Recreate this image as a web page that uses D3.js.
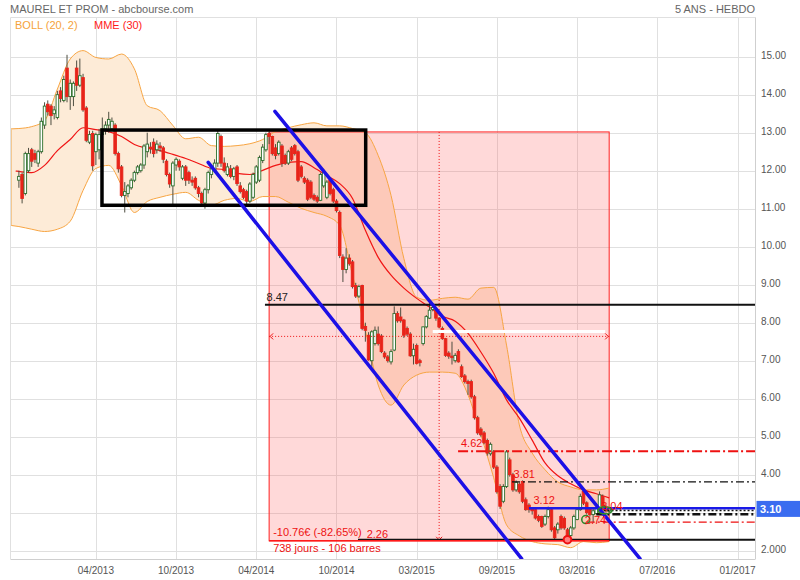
<!DOCTYPE html>
<html><head><meta charset="utf-8">
<script src="https://cdn.jsdelivr.net/npm/d3@7"></script>
<style>body{margin:0;background:#fff}svg{display:block;font-family:"Liberation Sans",Arial,Helvetica,sans-serif}</style>
</head><body><svg id="c" width="800" height="580"></svg>
<script>
// ---------- DATA ----------
const titleText = "MAUREL ET PROM - abcbourse.com";
const periodText = "5 ANS - HEBDO";
const legendBoll = "BOLL (20, 2)";
const legendMme = "MME (30)";
const xTickIdx = [24, 49, 74, 99, 124, 149, 174, 199, 224];
const xTickLabels = ["04/2013","10/2013","04/2014","10/2014","03/2015","09/2015","03/2016","07/2016","01/2017"];
const yTicks = [2,3,4,5,6,7,8,9,10,11,12,13,14,15];
// the 3.00 label sits under the last-price tag in the reference, so it is left empty
const yTickLabels = ["2.000","","4.00","5.00","6.00","7.00","8.00","9.00","10.00","11.00","12.00","13.00","14.00","15.00"];
const lastPrice = 3.10;

// weekly candles (bar index = position in arrays)
const opens = [11.75,11.90,11.40,12.00,12.55,12.45,12.20,12.50,13.20,13.75,13.70,13.50,13.40,14.10,13.85,14.70,13.95,13.95,14.70,14.25,
14.45,13.65,12.75,12.98,12.50,12.55,12.95,13.10,13.20,13.10,13.20,12.45,12.10,11.35,11.40,11.55,11.75,11.95,12.00,12.15,
12.50,12.62,12.75,12.55,12.65,12.60,12.25,11.90,11.60,12.15,12.25,11.80,12.10,11.95,11.75,11.80,11.55,11.40,11.15,11.50,
11.90,12.00,12.20,12.90,12.20,11.90,12.05,11.85,12.10,11.60,11.50,11.45,11.20,11.30,11.70,11.75,12.27,12.55,12.98,12.90,
12.60,12.45,12.65,12.40,12.20,12.60,12.66,12.50,12.10,11.80,11.75,11.70,11.35,11.30,11.22,11.60,11.30,11.75,11.50,11.20,
10.90,9.73,9.40,9.70,9.60,8.98,8.70,8.98,7.90,7.67,7.00,7.45,7.70,7.65,7.20,7.10,6.97,7.28,8.24,8.15,
8.07,7.85,7.70,7.13,7.40,7.00,7.45,7.89,8.12,8.35,8.33,8.12,7.85,7.58,7.20,7.12,7.00,7.24,6.84,6.60,
6.45,6.45,6.05,5.50,5.20,5.10,4.90,4.55,4.60,4.20,3.69,3.30,3.69,4.39,4.00,3.60,3.75,3.82,3.34,3.20,
3.10,3.08,2.90,2.90,2.70,2.90,3.08,2.60,2.55,2.90,2.85,2.55,2.40,2.60,2.82,3.08,3.56,3.26,3.10,2.95,
2.98,3.13,3.43,3.10,3.04];
const highs = [12.00,11.95,12.50,12.60,12.60,12.55,12.55,13.40,13.80,13.85,13.75,13.70,14.10,14.20,14.50,15.05,14.40,14.35,14.90,14.95,
14.55,13.70,13.05,13.05,13.00,13.10,13.40,13.30,13.55,13.40,13.25,12.50,12.15,11.70,11.65,11.80,12.00,12.15,12.20,12.70,
13.00,12.75,12.85,12.80,12.75,12.65,12.30,11.95,12.25,12.35,12.30,12.15,12.15,12.00,11.85,11.85,11.60,11.45,11.55,12.00,
12.15,12.30,13.05,12.95,12.35,12.20,12.15,12.10,12.15,11.70,11.55,11.50,11.70,11.95,12.15,12.40,12.70,13.00,13.02,12.92,
12.70,12.80,12.70,12.45,12.55,12.65,12.70,12.55,12.15,11.85,11.80,11.75,11.40,11.35,11.95,12.05,11.75,11.80,11.55,11.25,
10.95,9.80,9.96,9.80,9.65,9.05,9.00,9.00,8.00,7.75,7.80,7.90,7.90,7.70,7.25,7.15,7.30,8.43,8.30,8.40,
8.10,7.90,7.75,7.45,7.45,7.05,7.90,8.20,8.55,8.50,8.40,8.15,7.90,7.60,7.25,7.50,7.20,7.30,6.90,6.65,
6.50,6.50,6.10,5.55,5.25,5.15,4.95,4.85,4.65,4.25,3.75,3.75,4.65,4.45,4.05,3.85,3.80,3.85,3.40,3.25,
3.15,3.12,2.95,2.92,2.95,3.16,3.10,2.65,2.75,2.95,2.90,2.60,2.65,2.95,3.12,3.50,3.60,3.30,3.15,3.10,
3.18,3.56,3.48,3.20,3.15];
const lows = [11.55,11.14,11.35,11.95,12.10,12.20,12.10,12.45,13.10,13.45,13.20,13.35,13.35,13.80,13.80,13.80,13.60,13.70,14.10,14.20,
13.55,12.75,12.70,12.00,12.15,12.30,12.90,12.95,13.00,13.05,12.40,11.95,11.30,10.90,11.30,11.50,11.70,11.90,11.95,12.05,
12.35,12.45,12.35,12.45,12.50,12.20,11.85,11.55,11.10,12.00,12.00,11.75,11.60,11.65,11.60,11.50,11.30,11.05,11.00,11.40,
11.80,11.95,12.10,12.10,11.95,11.85,11.80,11.75,11.60,11.40,11.25,11.10,11.15,11.25,11.65,11.70,12.20,12.50,12.70,12.40,
12.30,12.40,12.10,12.15,12.15,12.25,12.40,11.70,11.80,11.65,11.20,11.25,11.20,11.15,11.20,11.55,11.25,11.35,11.15,10.90,
9.70,9.07,9.30,9.50,8.90,8.65,8.65,7.80,7.50,7.00,6.80,7.40,7.40,7.20,7.05,6.95,6.90,7.25,8.00,8.00,
7.60,7.65,7.10,6.90,6.90,6.85,7.40,7.85,8.10,8.30,8.05,7.85,7.55,7.10,7.05,6.90,6.95,6.95,6.55,6.40,
6.10,6.00,5.45,5.05,5.00,4.80,4.50,4.50,4.15,3.50,3.10,3.25,3.65,3.95,3.55,3.55,3.50,3.25,3.05,3.00,
2.95,2.82,2.75,2.60,2.65,2.85,2.50,2.30,2.45,2.55,2.55,2.26,2.35,2.55,2.80,3.05,3.20,2.95,2.90,2.74,
2.95,3.10,3.12,3.00,3.02];
const closes = [11.85,11.27,12.45,12.45,12.25,12.30,12.50,13.30,13.70,13.55,13.45,13.60,14.00,13.90,14.40,13.95,14.30,14.30,14.25,14.50,
13.60,12.80,12.95,12.13,12.95,12.95,13.10,13.20,13.35,13.30,12.45,12.05,11.35,11.45,11.60,11.75,11.95,12.10,12.15,12.65,
12.70,12.58,12.45,12.70,12.60,12.30,11.90,11.65,12.20,12.30,12.10,12.10,11.75,11.75,11.70,11.55,11.40,11.15,11.50,11.95,
12.05,12.20,12.98,12.20,12.00,12.10,11.85,12.05,11.66,11.45,11.30,11.20,11.65,11.90,12.10,12.35,12.62,12.95,12.90,12.45,
12.40,12.75,12.20,12.20,12.50,12.30,12.45,11.75,11.85,11.70,11.25,11.30,11.25,11.20,11.90,11.95,11.70,11.40,11.20,10.95,
9.77,9.40,9.70,9.55,8.95,8.70,8.95,7.85,7.80,7.02,7.76,7.80,7.45,7.24,7.10,7.00,7.24,8.24,8.05,8.05,
7.67,7.70,7.13,7.30,6.93,6.95,7.89,8.16,8.33,8.40,8.12,7.89,7.58,7.14,7.12,7.08,7.14,6.97,6.58,6.45,
6.40,6.05,5.50,5.10,5.05,4.84,4.57,4.80,4.20,3.55,3.17,3.69,4.60,4.00,3.60,3.80,3.55,3.30,3.08,3.08,
3.05,2.86,2.80,2.64,2.90,3.08,2.55,2.34,2.70,2.60,2.60,2.34,2.60,2.90,3.08,3.43,3.25,3.00,2.95,3.05,
3.13,3.47,3.17,3.05,3.10];

// Bollinger (20,2) and MME(30) at sample bars
const bandIdx = [-2.5,0,4,8,12,16,20,24,28,32,36,40,44,48,52,56,60,64,68,72,76,80,84,88,92,96,100,104,108,112,116,120,124,128,132,136,140,144,148,152,156,160,164,168,172,176,180,184];
const bandUpper = [13.10,13.11,13.16,13.32,14.15,14.94,15.16,14.98,14.94,15.07,14.68,13.71,13.58,13.19,12.84,12.88,12.66,12.64,12.66,12.71,12.82,13.03,13.13,13.21,13.26,13.18,13.18,13.11,13.00,12.40,11.35,9.69,8.67,8.59,8.64,8.67,8.62,8.91,8.93,7.41,5.31,4.57,4.13,3.81,3.68,3.60,3.60,3.65];
const bandLower = [10.56,10.53,10.46,10.40,10.46,10.67,11.48,12.06,12.14,11.61,10.90,11.19,11.30,11.38,11.43,11.22,11.09,11.22,11.27,11.19,11.32,11.32,11.17,11.01,10.90,10.80,10.56,9.25,7.80,6.36,5.83,6.36,6.62,6.70,6.70,6.67,6.10,5.05,3.92,2.68,2.39,2.24,2.18,2.16,2.08,2.24,2.21,2.24];
const emaIdx = [-1,0,4,8,12,16,20,24,28,32,36,40,44,48,52,56,60,64,68,72,76,80,84,88,92,96,100,104,108,112,116,120,124,128,132,136,140,144,148,152,156,160,164,168,172,176,180,184];
const emaVals = [11.99,11.98,11.95,12.14,12.53,12.82,13.13,13.08,13.03,12.90,12.69,12.59,12.53,12.43,12.32,12.19,12.06,12.03,11.93,11.90,12.01,12.14,12.22,12.24,12.08,11.87,11.66,11.27,10.43,9.72,9.25,8.91,8.64,8.41,8.17,8.04,7.72,7.23,6.67,5.97,5.49,4.91,4.31,3.97,3.76,3.60,3.50,3.39];

// drawings (bar index, price)
const boxIdx = [25.9, 108.1], boxPrice = [13.07, 11.09];
const measureIdx = [78, 184], measurePrice = [13.02, 2.26];
const channelUpper = [[79.8, 13.56], [193.6, 1.79]];
const channelLower = [[59.0, 12.22], [156.7, 1.79]];
const levels = [
  {v: 8.47, from: 76.7, color: "#111", w: 2, dash: null, label: "8.47", lx: 77.2, lc: "#222"},
  {v: 4.62, from: 136.9, color: "#ee1111", w: 2, dash: "10,3,2,3", label: "4.62", lx: 137.8, lc: "#ee1111"},
  {v: 3.81, from: 153.7, color: "#111", w: 1.2, dash: "8,3,2,3", label: "3.81", lx: 154.2, lc: "#ee1111"},
  {v: 3.12, from: 159.0, color: "#1a1ae8", w: 2.5, dash: null, label: "3.12", lx: 160.4, lc: "#ee1111"},
  {v: 3.06, from: 181.0, color: "#111", w: 1.5, dash: "2,2", label: null},
  {v: 2.96, from: 180.0, color: "#111", w: 2.5, dash: "8,3,2,3", label: null},
  {v: 2.75, from: 177.0, color: "#ee1111", w: 1.2, dash: "8,3,2,3", label: null},
  {v: 2.29, from: 105.7, color: "#111", w: 2, dash: null, label: null}
];

// ---------- CHART ----------
const L = 10.5, R = 755.5, T = 17.5, B = 559;
const svg = d3.select("#c");
const x = d3.scaleLinear().domain([0, 224]).range([18.9, 737.5]);
const y = d3.scaleLinear().domain([2, 15]).range([550.7, 56.7]);

svg.append("defs").append("clipPath").attr("id", "plot")
  .append("rect").attr("x", L).attr("y", T).attr("width", R - L).attr("height", B - T);

// grid
const grid = svg.append("g").attr("stroke", "#e0e0e0").attr("stroke-width", 1);
grid.selectAll(".h").data(yTicks).join("line")
  .attr("x1", L).attr("x2", R).attr("y1", d => Math.round(y(d)) + 0.5).attr("y2", d => Math.round(y(d)) + 0.5);
grid.selectAll(".v").data(xTickIdx).join("line")
  .attr("y1", T).attr("y2", B).attr("x1", d => Math.round(x(d)) + 0.5).attr("x2", d => Math.round(x(d)) + 0.5);

const plot = svg.append("g").attr("clip-path", "url(#plot)");

// bollinger fill
const band = bandIdx.map((k, i) => ({k, u: bandUpper[i], l: bandLower[i]}));
plot.append("path").datum(band)
  .attr("d", d3.area().x(d => x(d.k)).y0(d => y(d.l)).y1(d => y(d.u)).curve(d3.curveMonotoneX))
  .attr("fill", "#fdebd7");

// measurement rectangle
plot.append("rect")
  .attr("x", x(measureIdx[0])).attr("y", y(measurePrice[0]))
  .attr("width", x(measureIdx[1]) - x(measureIdx[0]))
  .attr("height", y(measurePrice[1]) - y(measurePrice[0]))
  .attr("fill", "rgba(255,80,80,0.22)").attr("stroke", "#ff2020").attr("stroke-width", 1);

// bollinger lines
plot.append("path").datum(band)
  .attr("d", d3.line().x(d => x(d.k)).y(d => y(d.u)).curve(d3.curveMonotoneX))
  .attr("fill", "none").attr("stroke", "#f7a543").attr("stroke-width", 1);
plot.append("path").datum(band)
  .attr("d", d3.line().x(d => x(d.k)).y(d => y(d.l)).curve(d3.curveMonotoneX))
  .attr("fill", "none").attr("stroke", "#f7a543").attr("stroke-width", 1);
plot.append("line").attr("x1", L + 0.5).attr("x2", L + 0.5).attr("y1", y(bandUpper[0])).attr("y2", y(bandLower[0]))
  .attr("stroke", "#f4c890").attr("stroke-width", 2);

const midV = (measurePrice[0] + measurePrice[1]) / 2;
const midK = (measureIdx[0] + measureIdx[1]) / 2;

// EMA
plot.append("path").datum(emaIdx.map((k, i) => [k, emaVals[i]]))
  .attr("d", d3.line().x(d => x(d[0])).y(d => y(d[1])).curve(d3.curveMonotoneX))
  .attr("fill", "none").attr("stroke", "#f01515").attr("stroke-width", 1.2);

// candles
const candles = closes.map((c, i) => ({i, o: opens[i], h: highs[i], l: lows[i], c}));
const bw = 2.6;
const cg = plot.append("g");
cg.selectAll("line.w").data(candles).join("line")
  .attr("x1", d => x(d.i)).attr("x2", d => x(d.i))
  .attr("y1", d => y(d.h)).attr("y2", d => y(d.l))
  .attr("stroke", "#4d4d40").attr("stroke-width", 1);
cg.selectAll("rect.b").data(candles).join("rect")
  .attr("x", d => x(d.i) - bw / 2)
  .attr("y", d => y(Math.max(d.o, d.c)))
  .attr("width", bw)
  .attr("height", d => Math.max(1, Math.abs(y(d.o) - y(d.c))))
  .attr("fill", d => d.c >= d.o ? "#fff" : "#e8241a")
  .attr("stroke", d => d.c >= d.o ? "#2b6e2b" : "#e8241a")
  .attr("stroke-width", 0.9);

// measure dotted lines
plot.append("line").attr("x1", x(midK)).attr("x2", x(midK)).attr("y1", y(measurePrice[0])).attr("y2", y(measurePrice[1]))
  .attr("stroke", "#ee1111").attr("stroke-dasharray", "1,2");
plot.append("line").attr("x1", x(129)).attr("x2", x(measureIdx[1]) - 4).attr("y1", y(midV) - 5).attr("y2", y(midV) - 5)
  .attr("stroke", "#fff").attr("stroke-width", 3);
plot.append("line").attr("x1", x(measureIdx[0])).attr("x2", x(measureIdx[1])).attr("y1", y(midV)).attr("y2", y(midV))
  .attr("stroke", "#ee1111").attr("stroke-dasharray", "1,2");
const arr = plot.append("g").attr("fill", "none").attr("stroke", "#ee1111").attr("stroke-width", 1);
arr.append("path").attr("d", `M${x(measureIdx[0]) + 4},${y(midV) - 3}L${x(measureIdx[0]) + 1},${y(midV)}L${x(measureIdx[0]) + 4},${y(midV) + 3}`);
arr.append("path").attr("d", `M${x(measureIdx[1]) - 4},${y(midV) - 3}L${x(measureIdx[1]) - 1},${y(midV)}L${x(measureIdx[1]) - 4},${y(midV) + 3}`);
arr.append("path").attr("d", `M${x(midK) - 3},${y(measurePrice[1]) - 4}L${x(midK)},${y(measurePrice[1]) - 1}L${x(midK) + 3},${y(measurePrice[1]) - 4}`);

// horizontal levels
levels.forEach(lv => {
  plot.append("line").attr("x1", x(lv.from)).attr("x2", R).attr("y1", y(lv.v)).attr("y2", y(lv.v))
    .attr("stroke", lv.color).attr("stroke-width", lv.w).attr("stroke-dasharray", lv.dash);
});
plot.append("line").attr("x1", x(measureIdx[0])).attr("x2", x(measureIdx[1])).attr("y1", y(measurePrice[1])).attr("y2", y(measurePrice[1]))
  .attr("stroke", "#ff1a1a").attr("stroke-width", 1.5);

// black box
plot.append("rect")
  .attr("x", x(boxIdx[0])).attr("y", y(boxPrice[0]))
  .attr("width", x(boxIdx[1]) - x(boxIdx[0])).attr("height", y(boxPrice[1]) - y(boxPrice[0]))
  .attr("fill", "none").attr("stroke", "#000").attr("stroke-width", 3.5);

// channel lines
[channelUpper, channelLower].forEach(c => {
  plot.append("line").attr("x1", x(c[0][0])).attr("y1", y(c[0][1])).attr("x2", x(c[1][0])).attr("y2", y(c[1][1]))
    .attr("stroke", "#1c10e6").attr("stroke-width", 3.5).attr("stroke-linecap", "round");
});

// markers
plot.append("circle").attr("cx", x(171)).attr("cy", y(2.29)).attr("r", 3.8)
  .attr("fill", "#ff8080").attr("stroke", "#ee1111").attr("stroke-width", 2);
plot.append("circle").attr("cx", x(176.7)).attr("cy", y(2.82)).attr("r", 4)
  .attr("fill", "none").attr("stroke", "#2b8a2b").attr("stroke-width", 1.6);
plot.append("ellipse").attr("cx", x(182.7)).attr("cy", y(3.06)).attr("rx", 7).attr("ry", 3.5)
  .attr("fill", "none").attr("stroke", "#2b8a2b").attr("stroke-width", 1.6);

// level labels
const lab = svg.append("g").attr("font-size", 11);
levels.filter(l => l.label).forEach(lv => {
  lab.append("text").attr("x", x(lv.lx)).attr("y", y(lv.v) - 4).attr("fill", lv.lc).text(lv.label);
});
lab.append("text").attr("x", x(181.5)).attr("y", y(3.12) + 2).attr("fill", "#ee1111").text("3.04");
lab.append("text").attr("x", x(176.4)).attr("y", y(2.75) + 2).attr("fill", "#ee1111").text("2.74");
lab.append("text").attr("x", x(measureIdx[0]) + 4).attr("y", y(measurePrice[1]) - 5).attr("fill", "#ee1111").text("-10.76€ (-82.65%)");
lab.append("text").attr("x", x(108.4)).attr("y", y(measurePrice[1]) - 3).attr("fill", "#ee1111").text("2.26");
lab.append("text").attr("x", x(measureIdx[0]) + 4).attr("y", y(measurePrice[1]) + 11).attr("fill", "#ee1111").text("738 jours - 106 barres");

// axes frame
svg.append("line").attr("x1", L).attr("x2", R).attr("y1", T).attr("y2", T).attr("stroke", "#e0e0e0");
svg.append("line").attr("x1", L).attr("x2", L).attr("y1", T).attr("y2", B).attr("stroke", "#e0e0e0");
svg.append("line").attr("x1", R).attr("x2", R).attr("y1", T).attr("y2", B).attr("stroke", "#cfcfcf");
svg.append("line").attr("x1", L).attr("x2", R).attr("y1", B + 0.5).attr("y2", B + 0.5).attr("stroke", "#cfcfcf");

// y labels
svg.append("g").attr("font-size", 10).attr("fill", "#555")
  .selectAll("text").data(yTicks.filter((d, i) => yTickLabels[i] !== "")).join("text")
  .attr("x", 761).attr("y", d => y(d) - 1.5).attr("dominant-baseline", "central")
  .text(d => yTickLabels[yTicks.indexOf(d)]);
// x labels
svg.append("g").attr("font-size", 10).attr("fill", "#555").attr("text-anchor", "middle")
  .selectAll("text").data(xTickIdx).join("text")
  .attr("x", d => x(d)).attr("y", 574)
  .text((d, i) => xTickLabels[i]);

// last price box
svg.append("rect").attr("x", 756.5).attr("y", y(lastPrice) - 8).attr("width", 44).attr("height", 16).attr("fill", "#3a6cf0");
svg.append("text").attr("x", 760).attr("y", y(lastPrice)).attr("dominant-baseline", "central")
  .attr("font-size", 11).attr("font-weight", "bold").attr("fill", "#fff").text(lastPrice.toFixed(2));

// title + legend
svg.append("text").attr("x", 10).attr("y", 13).attr("font-size", 11).attr("fill", "#666").text(titleText);
svg.append("text").attr("x", 755).attr("y", 13).attr("font-size", 11).attr("fill", "#666").attr("text-anchor", "end").text(periodText);
svg.append("text").attr("x", 15).attr("y", 29).attr("font-size", 11).attr("fill", "#f5a23a").text(legendBoll);
svg.append("text").attr("x", 94).attr("y", 29).attr("font-size", 11).attr("fill", "#ff1a1a").text(legendMme);
</script></body></html>
